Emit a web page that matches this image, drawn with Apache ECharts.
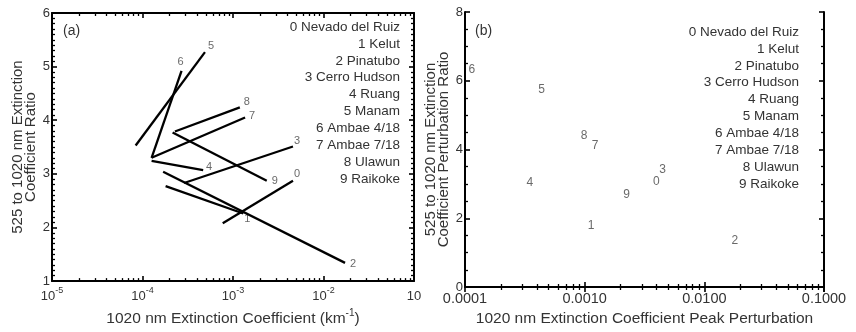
<!DOCTYPE html>
<html><head><meta charset="utf-8">
<script src="https://cdn.jsdelivr.net/npm/echarts@6/dist/echarts.min.js"></script>
<style>html,body{margin:0;padding:0;background:#fff}#c{width:856px;height:332px}</style>
</head><body><div id="c"></div>
<script>
// ---- data ----
const ids = ['0','1','2','3','4','5','6','7','8','9'];
const names = ['Nevado del Ruiz','Kelut','Pinatubo','Cerro Hudson','Ruang','Manam','Ambae 4/18','Ambae 7/18','Ulawun','Raikoke'];
// panel (a): each eruption is a segment from start to end
const startExt   = [7.7e-4, 1.8e-4, 1.69e-4, 2.88e-4, 1.26e-4, 8.4e-5, 1.26e-4, 1.26e-4, 2.28e-4, 2.15e-4];
const startRatio = [2.08, 2.77, 3.04, 2.83, 3.24, 3.53, 3.30, 3.30, 3.79, 3.77];
const endExt     = [4.6e-3, 1.3e-3, 1.73e-2, 4.6e-3, 4.68e-4, 4.9e-4, 2.7e-4, 1.36e-3, 1.19e-3, 2.36e-3];
const endRatio   = [2.87, 2.26, 1.34, 3.51, 3.07, 5.27, 4.92, 4.05, 4.24, 2.87];
// panel (b)
const peakPert  = [3.98e-3, 1.13e-3, 1.8e-2, 4.47e-3, 3.49e-4, 4.37e-4, 1.14e-4, 1.22e-3, 9.9e-4, 2.24e-3];
const pertRatio = [3.06, 1.79, 1.34, 3.42, 3.03, 5.74, 6.33, 4.10, 4.39, 2.70];
// tick labels
const xTickExpA  = [-5, -4, -3, -2, -1];
const xTickBaseA = ['10', '10', '10', '10', '10'];
const xTickSupA  = ['-5', '-4', '-3', '-2', ''];
const xTickExpB    = [-4, -3, -2, -1];
const xTickLabelsB = ['0.0001', '0.0010', '0.0100', '0.1000'];
const xNameA = ['1020 nm Extinction Coefficient (km', '-1', ')'];
const yNameA = ['525 to 1020 nm Extinction', 'Coefficient Ratio'];
const xNameB = '1020 nm Extinction Coefficient Peak Perturbation';
const yNameB = ['525 to 1020 nm Extinction', 'Coefficient Perturbation Ratio'];

// ---- styles ----
const FF = '"Liberation Sans", Arial, Helvetica, sans-serif';
const TXT = '#333';
const labelOffA = [[4,-7],[4,5],[8,1],[4,-6],[6,-3],[6,-6],[-1,-9],[7,-2],[7,-5],[8,0]];
const TICKC = '#000', MAJL = 5, MINL = 3;

function axLine() { return {show: true, lineStyle: {color: '#000', width: 2}}; }
function majTick() { return {show: true, inside: true, length: MAJL, lineStyle: {color: TICKC, width: 1.6}}; }
function minTick(n) { return {show: true, splitNumber: n, length: MINL, lineStyle: {color: TICKC, width: 1.3}}; }
function xLog(grid, min, max, pos, extra) {
  return Object.assign({
    gridIndex: grid, type: 'log', logBase: 10, min: min, max: max, position: pos,
    axisLine: axLine(), axisTick: majTick(), minorTick: minTick(9),
    splitLine: {show: false},
    axisLabel: {show: false}
  }, extra || {});
}
function yVal(grid, min, max, interval, nMinor, pos, extra) {
  return Object.assign({
    gridIndex: grid, type: 'value', min: min, max: max, interval: interval, position: pos,
    axisLine: axLine(), axisTick: majTick(), minorTick: minTick(nMinor),
    splitLine: {show: false},
    axisLabel: {show: false}
  }, extra || {});
}
const fmtA = function (v) {
  const k = xTickExpA.indexOf(Math.round(Math.log10(v)));
  if (k < 0) return '';
  return '{b|' + xTickBaseA[k] + '}' + (xTickSupA[k] ? '{s|' + xTickSupA[k] + '}' : '');
};
const fmtB = function (v) {
  const k = xTickExpB.indexOf(Math.round(Math.log10(v)));
  return k < 0 ? '' : xTickLabelsB[k];
};
const series = [];
ids.forEach(function (id, i) {
  series.push({
    type: 'line', xAxisIndex: 0, yAxisIndex: 0, symbol: 'none', silent: true,
    data: [[startExt[i], startRatio[i]], [endExt[i], endRatio[i]]],
    lineStyle: {color: '#000', width: 2.3}
  });
});
series.push({
  type: 'scatter', xAxisIndex: 0, yAxisIndex: 0, symbolSize: 0.1, silent: true,
  itemStyle: {color: 'rgba(0,0,0,0)'},
  data: ids.map(function (id, i) {
    return {value: [endExt[i], endRatio[i]], name: id,
      label: {show: true, position: 'inside', offset: labelOffA[i], formatter: id, color: '#444', fontSize: 11, fontFamily: FF}};
  })
});
series.push({
  type: 'scatter', xAxisIndex: 2, yAxisIndex: 2, symbolSize: 0.1, silent: true,
  itemStyle: {color: 'rgba(0,0,0,0)'},
  data: ids.map(function (id, i) {
    return {value: [peakPert[i], pertRatio[i]], name: id,
      label: {show: true, position: 'inside', formatter: id, color: '#444', fontSize: 12, fontFamily: FF}};
  })
});
const graphic = [
  {type: 'text', left: 63, top: 24, style: {text: '(a)', font: '14px ' + FF, fill: TXT}},
  {type: 'text', left: 475, top: 24, style: {text: '(b)', font: '14px ' + FF, fill: TXT}}
];
ids.forEach(function (id, i) {
  const line = id + ' ' + names[i];
  graphic.push({type: 'text', right: 456, top: 20 + i * 16.9, style: {text: line, font: '13.5px ' + FF, fill: TXT}});
  graphic.push({type: 'text', right: 57, top: 25 + i * 16.9, style: {text: line, font: '13.5px ' + FF, fill: TXT}});
});
const option = {
  animation: false,
  grid: [
    {left: 52, top: 13, width: 362, height: 276},
    {left: 465, top: 12, width: 359, height: 275}
  ],
  xAxis: [
    xLog(0, 1e-5, 1e-1, 'bottom', {
      axisLabel: {show: true, formatter: fmtA, margin: 5, color: TXT, fontFamily: FF,
        rich: {b: {fontSize: 13, fontFamily: FF, color: TXT, verticalAlign: 'bottom', lineHeight: 17},
               s: {fontSize: 9, fontFamily: FF, color: TXT, verticalAlign: 'top', lineHeight: 9}}},
      name: '{n|' + xNameA[0] + '}{s|' + xNameA[1] + '}{n|' + xNameA[2] + '}',
      nameLocation: 'middle', nameGap: 23,
      nameTextStyle: {rich: {
        n: {fontSize: 15.5, fontFamily: FF, color: TXT, verticalAlign: 'bottom', lineHeight: 19},
        s: {fontSize: 10, fontFamily: FF, color: TXT, verticalAlign: 'top', lineHeight: 10}}}
    }),
    xLog(0, 1e-5, 1e-1, 'top'),
    xLog(1, 1e-4, 1e-1, 'bottom', {
      axisLabel: {show: true, formatter: fmtB, margin: 4, color: TXT, fontFamily: FF, fontSize: 14.5},
      name: xNameB, nameLocation: 'middle', nameGap: 21,
      nameTextStyle: {fontSize: 15.5, fontFamily: FF, color: TXT}
    }),
    xLog(1, 1e-4, 1e-1, 'top')
  ],
  yAxis: [
    yVal(0, 1, 6, 1, 10, 'left', {
      axisLabel: {show: true, color: TXT, fontFamily: FF, fontSize: 13, margin: 2},
      name: yNameA.join('\n'), nameLocation: 'middle', nameGap: 15, nameRotate: 90,
      nameTextStyle: {fontSize: 15, fontFamily: FF, color: TXT, lineHeight: 13}
    }),
    yVal(0, 1, 6, 1, 10, 'right'),
    yVal(1, 0, 8, 2, 4, 'left', {
      axisLabel: {show: true, color: TXT, fontFamily: FF, fontSize: 13, margin: 2},
      name: yNameB.join('\n'), nameLocation: 'middle', nameGap: 15, nameRotate: 90,
      nameTextStyle: {fontSize: 15, fontFamily: FF, color: TXT, lineHeight: 13}
    }),
    yVal(1, 0, 8, 2, 4, 'right')
  ],
  graphic: graphic,
  series: series
};
const chart = echarts.init(document.getElementById('c'));
chart.setOption(option);
</script>
</body></html>
